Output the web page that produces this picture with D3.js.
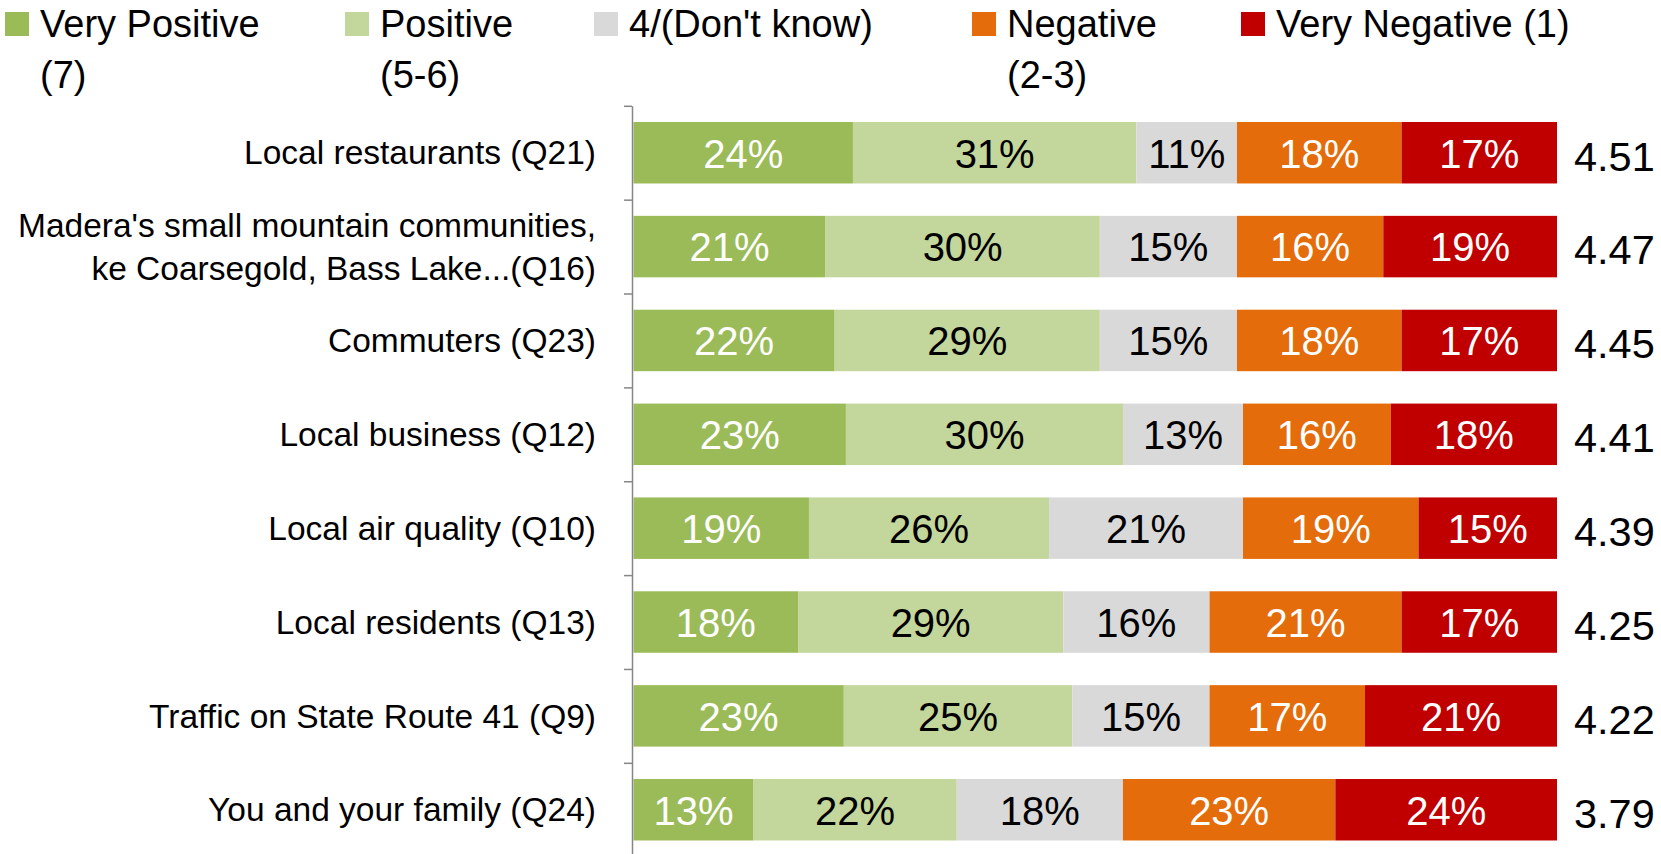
<!DOCTYPE html>
<html>
<head>
<meta charset="utf-8">
<script src="https://cdn.jsdelivr.net/npm/d3@7"></script>
<style>
  html, body { margin: 0; padding: 0; background: #fff; }
  svg { display: block; font-family: "Liberation Sans", Arial, sans-serif; }
</style>
</head>
<body>
<script>
/* -----------------------------------------------------
 *  Data
 ----------------------------------------------------- */
const categories = [
  ["Local restaurants (Q21)"],
  ["Madera's small mountain communities,", "ke Coarsegold, Bass Lake...(Q16)"],
  ["Commuters (Q23)"],
  ["Local business (Q12)"],
  ["Local air quality (Q10)"],
  ["Local residents (Q13)"],
  ["Traffic on State Route 41 (Q9)"],
  ["You and your family (Q24)"]
];
const seriesNames = [
  ["Very Positive", "(7)"],
  ["Positive", "(5-6)"],
  ["4/(Don't know)"],
  ["Negative", "(2-3)"],
  ["Very Negative (1)"]
];
const veryPositive = [24, 21, 22, 23, 19, 18, 23, 13];
const positive = [31, 30, 29, 30, 26, 29, 25, 22];
const dontKnow = [11, 15, 15, 13, 21, 16, 15, 18];
const negative = [18, 16, 18, 16, 19, 21, 17, 23];
const veryNegative = [17, 19, 17, 18, 15, 17, 21, 24];
const means = [4.51, 4.47, 4.45, 4.41, 4.39, 4.25, 4.22, 3.79];

const colors = ["#9BBB59", "#C3D69B", "#D9D9D9", "#E46C0A", "#C00000"];
const labelColors = ["#fff", "#000", "#000", "#fff", "#fff"];

/* -----------------------------------------------------
 *  Initial SVG setup
 ----------------------------------------------------- */
const width = 1661;
const height = 854;

const svg = d3
  .select("body")
  .append("svg")
  .attr("width", width)
  .attr("height", height);

const keys = ["vp", "p", "dk", "n", "vn"];
const table = categories.map((c, i) => ({
  index: i,
  vp: veryPositive[i],
  p: positive[i],
  dk: dontKnow[i],
  n: negative[i],
  vn: veryNegative[i]
}));

// 100% stacked: each row is scaled to its own total
const stacked = d3.stack().keys(keys).offset(d3.stackOffsetExpand)(table);

const x = d3.scaleLinear().domain([0, 1]).range([633.5, 1557]);
const plotTop = 105.8;
const step = 93.86;
const y = d3
  .scaleBand()
  .domain(d3.range(categories.length))
  .range([plotTop, plotTop + step * categories.length])
  .paddingInner(0.345)
  .paddingOuter(0.1725);

/* -----------------------------------------------------
 *  Bars and labels
 ----------------------------------------------------- */
const layers = svg
  .selectAll(".layer")
  .data(stacked)
  .enter()
  .append("g")
  .attr("class", "layer");

layers
  .selectAll("rect")
  .data((d) => d)
  .enter()
  .append("rect")
  .attr("x", (d) => x(d[0]))
  .attr("y", (d) => y(d.data.index))
  .attr("width", (d) => x(d[1]) - x(d[0]))
  .attr("height", y.bandwidth())
  .attr("fill", function () {
    return colors[d3.select(this.parentNode).datum().index];
  });

layers
  .selectAll("text")
  .data((d) => d.map((v) => ({ v, key: d.key, k: d.index })))
  .enter()
  .append("text")
  .attr("x", (d) => (x(d.v[0]) + x(d.v[1])) / 2)
  .attr("y", (d) => y(d.v.data.index) + y.bandwidth() / 2)
  .attr("dy", "0.37em")
  .attr("text-anchor", "middle")
  .style("font-size", "40px")
  .attr("fill", (d) => labelColors[d.k])
  .text((d) => d.v.data[d.key] + "%");

// mean scores on the right
svg
  .selectAll(".mean")
  .data(means)
  .enter()
  .append("text")
  .attr("class", "mean")
  .attr("x", x(1) + 17)
  .attr("y", (d, i) => y(i) + y.bandwidth() / 2)
  .attr("dy", "0.43em")
  .style("font-size", "41.5px")
  .attr("fill", "#000")
  .text((d) => d.toFixed(2));

/* -----------------------------------------------------
 *  Category axis
 ----------------------------------------------------- */
const tickScale = d3
  .scaleLinear()
  .domain([0, categories.length])
  .range([plotTop, plotTop + step * categories.length]);

const axis = svg
  .append("g")
  .attr("transform", "translate(632,0)")
  .call(
    d3
      .axisLeft(tickScale)
      .tickValues(d3.range(categories.length + 1))
      .tickSize(8)
      .tickSizeOuter(0)
      .tickFormat("")
  );
axis.selectAll("path, line").attr("stroke", "#868686").attr("stroke-width", 1.5);

const catLabels = svg
  .selectAll(".cat")
  .data(categories)
  .enter()
  .append("text")
  .attr("class", "cat")
  .attr("text-anchor", "end")
  .style("font-size", "33.5px")
  .attr("fill", "#000");

catLabels
  .selectAll("tspan")
  .data((d, i) => d.map((line, j) => ({ line, j, n: d.length, i })))
  .enter()
  .append("tspan")
  .attr("x", 596)
  .attr("y", (d) => y(d.i) + y.bandwidth() / 2 + (d.j - (d.n - 1) / 2) * 43.5)
  .attr("dy", "0.35em")
  .text((d) => d.line);

/* -----------------------------------------------------
 *  Legend
 ----------------------------------------------------- */
const legendX = [5, 345, 594, 972, 1241];

const legend = svg
  .selectAll(".legend")
  .data(seriesNames)
  .enter()
  .append("g")
  .attr("class", "legend")
  .attr("transform", (d, i) => `translate(${legendX[i]},0)`);

legend
  .append("rect")
  .attr("x", 0)
  .attr("y", 12)
  .attr("width", 24)
  .attr("height", 24)
  .attr("fill", (d, i) => colors[i]);

legend
  .append("text")
  .style("font-size", "38px")
  .attr("fill", "#000")
  .selectAll("tspan")
  .data((d) => d)
  .enter()
  .append("tspan")
  .attr("x", 35)
  .attr("y", (d, j) => 37 + j * 50.5)
  .text((d) => d);
</script>
</body>
</html>
